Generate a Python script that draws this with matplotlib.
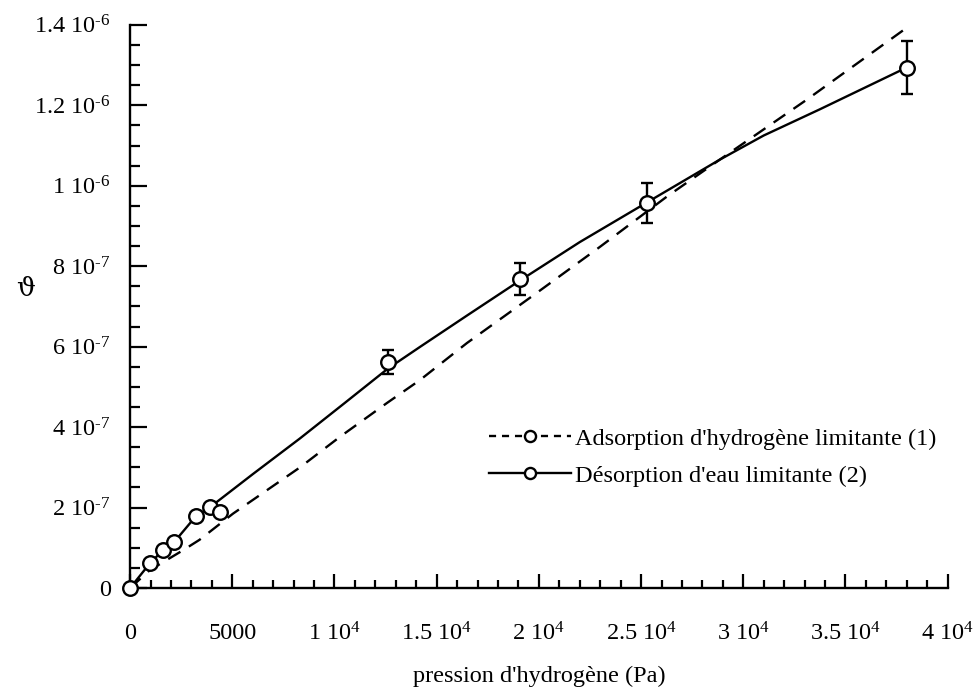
import matplotlib
matplotlib.use("Agg")
import matplotlib.pyplot as plt
from matplotlib.lines import Line2D

plt.rcParams['font.family'] = ['Liberation Serif', 'DejaVu Serif']
plt.rcParams['mathtext.fontset'] = 'custom'
plt.rcParams['mathtext.rm'] = 'Liberation Serif'
plt.rcParams['mathtext.it'] = 'Liberation Serif:italic'

# experimental points (desorption series markers)
p_exp = [0, 978, 1614, 2152, 3227, 3912, 4400, 12616, 19071, 25281, 37995]
theta_exp = [0, 6.2e-8, 9.4e-8, 1.14e-7, 1.79e-7, 2.01e-7, 1.9e-7, 5.62e-7, 7.69e-7, 9.58e-7, 1.294e-6]
theta_err = [0, 0, 0, 0, 0, 0, 0, 3.0e-8, 4.0e-8, 5.0e-8, 6.5e-8]

# model (2) desorption d'eau limitante - solid curve
p_model2 = [0, 978, 1614, 2152, 3227, 3912, 6000, 8313, 10500, 12600, 14200, 16500, 19000,
            22000, 25000, 28851, 31000, 33741, 37995]
theta_model2 = [0, 6.2e-8, 9.4e-8, 1.14e-7, 1.79e-7, 2.01e-7, 2.83e-7, 3.72e-7, 4.6e-7, 5.45e-7,
                6.0e-7, 6.78e-7, 7.62e-7, 8.6e-7, 9.5e-7, 1.065e-6, 1.125e-6, 1.19e-6, 1.294e-6]

# model (1) adsorption d'hydrogene limitante - dashed curve
p_model1 = [0, 978, 2592, 3400, 5037, 8313, 10269, 12567, 14181, 16479, 19218, 19902, 22983,
            26259, 28851, 33105, 38000]
theta_model1 = [0, 4.5e-8, 9.4e-8, 1.2e-7, 1.85e-7, 3.0e-7, 3.76e-7, 4.6e-7, 5.17e-7, 6.09e-7,
                7.09e-7, 7.34e-7, 8.48e-7, 9.73e-7, 1.065e-6, 1.214e-6, 1.393e-6]

x_ticks = [0, 5000, 10000, 15000, 20000, 25000, 30000, 35000, 40000]
x_ticklabels = ['0', '5000', r'1 10$^{4}$', r'1.5 10$^{4}$', r'2 10$^{4}$', r'2.5 10$^{4}$',
                r'3 10$^{4}$', r'3.5 10$^{4}$', r'4 10$^{4}$']
y_ticks = [0, 2e-7, 4e-7, 6e-7, 8e-7, 1e-6, 1.2e-6, 1.4e-6]
y_ticklabels = ['0', r'2 10$^{\text{-7}}$', r'4 10$^{\text{-7}}$', r'6 10$^{\text{-7}}$',
                r'8 10$^{\text{-7}}$', r'1 10$^{\text{-6}}$', r'1.2 10$^{\text{-6}}$',
                r'1.4 10$^{\text{-6}}$']

fig = plt.figure(figsize=(9.78, 6.91), dpi=100)
ax = fig.add_axes([0.133, 0.149, 0.836, 0.815])

lw = 1.7
dash = (0, (6.0, 4.2))
ax.plot(p_model1, theta_model1, color='black', lw=lw, linestyle=dash, clip_on=False, zorder=2)
ax.plot(p_model2, theta_model2, color='black', lw=lw, clip_on=False, zorder=2)
ax.errorbar(p_exp, theta_exp, yerr=theta_err, fmt='o', ms=10.5, mfc='white', mec='black', mew=1.7,
            ecolor='black', elinewidth=1.7, capsize=4.5, capthick=1.7, clip_on=False, zorder=3)

ax.set_xlim(0, 40000)
ax.set_ylim(0, 1.4e-6)
ax.spines['top'].set_visible(False)
ax.spines['right'].set_visible(False)
ax.spines['left'].set_linewidth(1.7)
ax.spines['bottom'].set_linewidth(1.7)

ax.set_xticks(x_ticks)
ax.set_xticklabels(x_ticklabels)
ax.set_xticks(range(0, 40001, 1000), minor=True)
ax.set_yticks(y_ticks)
ax.set_yticklabels(y_ticklabels)
ax.set_yticks([i * 5e-8 for i in range(29)], minor=True)

ax.tick_params(axis='x', which='major', direction='in', length=10, width=1.6, labelsize=17.5, pad=25)
ax.tick_params(axis='x', which='minor', direction='in', length=6, width=1.6)
ax.tick_params(axis='y', which='major', direction='in', length=12, width=1.6, labelsize=17.5, pad=14)
ax.tick_params(axis='y', which='minor', direction='in', length=7, width=1.6)

ax.set_xlabel("pression d'hydrogène (Pa)", fontsize=17.5, labelpad=14)
ax.set_ylabel("ϑ", fontsize=19, rotation=0, family=['DejaVu Serif'])
ax.yaxis.set_label_coords(-0.128, 0.51)

h1 = Line2D([], [], color='black', lw=lw, linestyle=(0, (3, 2.5)), marker='o', ms=8,
            mfc='white', mec='black', mew=1.7)
h2 = Line2D([], [], color='black', lw=lw, marker='o', ms=8, mfc='white', mec='black', mew=1.7)
ax.legend([h1, h2], ["Adsorption d'hydrogène limitante (1)", "Désorption d'eau limitante (2)"],
          loc='upper left', bbox_to_anchor=(0.418, 0.315), frameon=False, fontsize=17.5,
          handlelength=3.4, handletextpad=0.15, labelspacing=0.62, borderpad=0.2)

fig.savefig('out.png', dpi=100)
